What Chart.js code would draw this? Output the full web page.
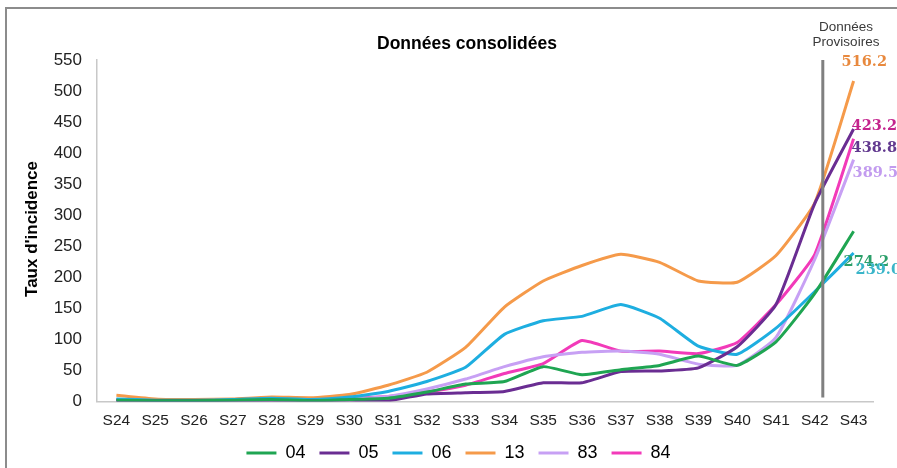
<!DOCTYPE html>
<html>
<head>
<meta charset="utf-8">
<script src="https://cdn.jsdelivr.net/npm/chart.js@4.4.0/dist/chart.umd.min.js"></script>
<style>
  html, body { margin: 0; padding: 0; background: #fff; overflow: hidden; }
  #wrap { position: relative; width: 897px; height: 468px; overflow: hidden; }
  #myChart { display: block; }
  #frame { position: absolute; left: 5px; top: 7px; width: 900px; height: 470px; border: 2px solid #8c8c8c; box-sizing: border-box; pointer-events: none; }
</style>
</head>
<body>
<div id="wrap">
  <canvas id="myChart" width="897" height="472"></canvas>
  <div id="frame"></div>
</div>
<script>
// semaines
const weeks = ["S24", "S25", "S26", "S27", "S28", "S29", "S30", "S31", "S32", "S33",
  "S34", "S35", "S36", "S37", "S38", "S39", "S40", "S41", "S42", "S43"];

// taux d'incidence par département
const dep04 = [2, 1, 1, 2, 3, 1, 3, 5, 15, 28, 32, 56, 43, 51, 58, 73, 58, 96, 174, 274.2];
const dep05 = [1, 1, 1, 1, 2, 1, 2, 1, 12, 14, 16, 30, 30, 48, 49, 54, 88, 156, 319, 438.8];
const dep06 = [4, 2, 2, 3, 5, 3, 7, 16, 32, 55, 108, 130, 137, 156, 134, 89, 76, 118, 177, 239.0];
const dep13 = [10, 4, 3, 4, 7, 6, 11, 26, 47, 87, 152, 194, 219, 237, 224, 194, 192, 235, 320, 516.2];
const dep83 = [2, 1, 1, 2, 3, 2, 4, 8, 20, 36, 56, 72, 79, 81, 76, 60, 58, 103, 229, 389.5];
const dep84 = [3, 2, 2, 3, 5, 3, 5, 8, 15, 26, 45, 61, 98, 81, 81, 77, 95, 156, 237, 423.2];

const yTicks = [0, 50, 100, 150, 200, 250, 300, 350, 400, 450, 500, 550];

// couleurs
const colors = {
  "04": "#1fa552", "05": "#6a2d92", "06": "#1eaee0",
  "13": "#f59a4a", "83": "#c7a0f4", "84": "#f23ab9"
};
// etiquettes de fin de courbe : couleur + decalage
const endLabels = {
  "13": { color: "#e8893e", dx: -12, dy: -19 },
  "84": { color: "#c4238d", dx: -2, dy: -12 },
  "05": { color: "#62398f", dx: -2, dy: 19 },
  "83": { color: "#c29bef", dx: -1, dy: 14 },
  "04": { color: "#2b9f6a", dx: -10, dy: 31 },
  "06": { color: "#3ab5c9", dx: 2, dy: 17 }
};

const series = [["04", dep04], ["05", dep05], ["06", dep06], ["13", dep13], ["83", dep83], ["84", dep84]];
const SANS = "'Liberation Sans', Arial, sans-serif";

const extraText = {
  id: "extraText",
  afterLayout(chart) {
    // decale un peu la legende
    chart.legend.left -= 3;
    chart.legend.right -= 3;
  },
  afterDatasetsDraw(chart) {
    const ctx = chart.ctx;
    const x = chart.scales.x, y = chart.scales.y;
    ctx.save();
    // ligne donnees provisoires
    const lx = x.getPixelForValue(18) + 8;
    ctx.strokeStyle = "#808080";
    ctx.lineWidth = 3;
    ctx.beginPath();
    ctx.moveTo(lx, y.getPixelForValue(550));
    ctx.lineTo(lx, y.getPixelForValue(0) - 4);
    ctx.stroke();

    ctx.textAlign = "center";
    ctx.textBaseline = "middle";
    ctx.fillStyle = "#000";
    ctx.font = "bold 17.5px " + SANS;
    ctx.fillText("Données consolidées", 467, 44);

    ctx.fillStyle = "#3a3a3a";
    ctx.font = "13.5px " + SANS;
    ctx.fillText("Données", 846, 27);
    ctx.fillText("Provisoires", 846, 42);

    // titre axe y
    ctx.save();
    ctx.translate(32, 229);
    ctx.rotate(-Math.PI / 2);
    ctx.fillStyle = "#000";
    ctx.font = "bold 17px " + SANS;
    ctx.fillText("Taux d'incidence", 0, 0);
    ctx.restore();

    // valeurs finales
    ctx.font = "bold 14.5px 'DejaVu Serif', 'Liberation Serif', serif";
    ctx.textAlign = "left";
    chart.data.datasets.forEach((ds) => {
      const lab = endLabels[ds.label];
      const last = ds.data.length - 1;
      const px = x.getPixelForValue(last);
      const py = y.getPixelForValue(ds.data[last]);
      ctx.fillStyle = lab.color;
      ctx.fillText(ds.data[last].toFixed(1), px + lab.dx, py + lab.dy);
    });
    ctx.restore();
  }
};

const ctx = document.getElementById("myChart").getContext("2d");
const myChart = new Chart(ctx, {
  type: "line",
  data: {
    labels: weeks,
    datasets: series.map(([name, vals]) => ({
      label: name,
      data: vals,
      borderColor: colors[name],
      backgroundColor: colors[name],
      borderWidth: 3,
      pointRadius: 0,
      tension: 0.15
    }))
  },
  options: {
    responsive: false,
    animation: false,
    layout: { padding: { top: 60, right: 24, bottom: 0, left: 50 } },
    plugins: {
      legend: {
        position: "bottom",
        labels: {
          boxWidth: 30,
          boxHeight: 3,
          padding: 14,
          color: "#222",
          font: { size: 18, family: SANS },
          generateLabels(chart) {
            return chart.data.datasets.map((ds, i) => ({
              text: ds.label, fillStyle: ds.borderColor, strokeStyle: ds.borderColor,
              lineWidth: 0, datasetIndex: i, hidden: false
            }));
          }
        }
      },
      tooltip: { enabled: false },
      title: { display: false }
    },
    scales: {
      x: {
        offset: true,
        afterFit(scale) { scale.height = scale.height - 10; },
        grid: { display: false, drawTicks: false },
        border: { color: "#c8c8c8", width: 1.5 },
        ticks: { color: "#222", padding: 10, maxRotation: 0, autoSkip: false,
          font: { size: 15.5, family: SANS } }
      },
      y: {
        min: 0, max: 550,
        afterBuildTicks(scale) { scale.ticks = yTicks.map(v => ({ value: v })); },
        afterFit(scale) { scale.width = 47; },
        grid: { display: false, drawTicks: false },
        border: { color: "#c8c8c8", width: 1.5 },
        ticks: { color: "#222", padding: 15,
          font: { size: 17, family: SANS } }
      }
    }
  },
  plugins: [extraText]
});
</script>
</body>
</html>
